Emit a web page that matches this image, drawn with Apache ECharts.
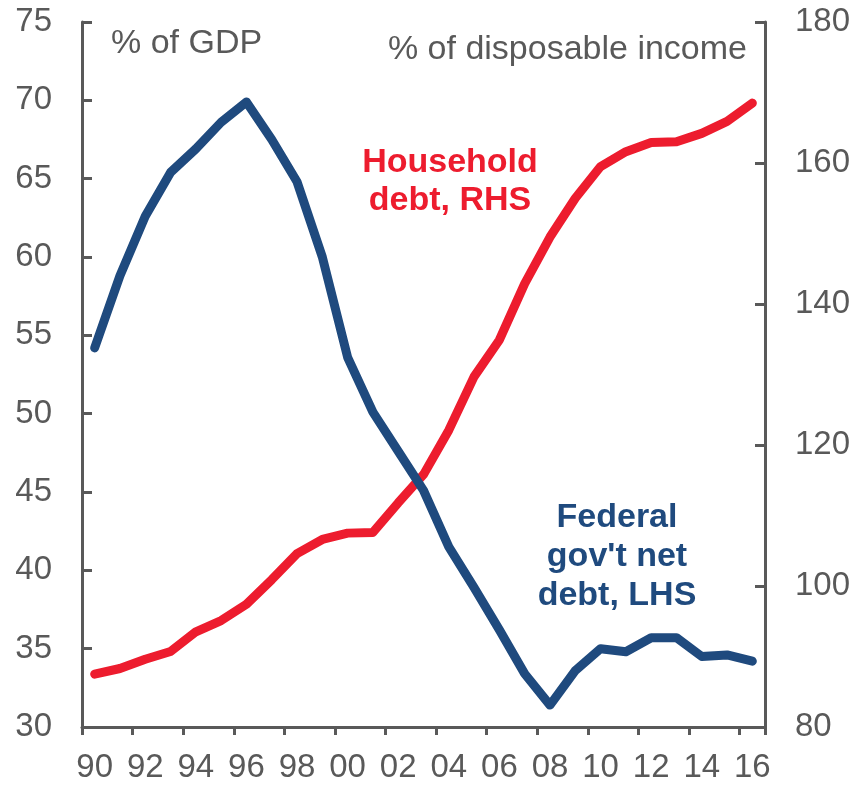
<!DOCTYPE html>
<html>
<head>
<meta charset="utf-8">
<script src="https://cdn.jsdelivr.net/npm/echarts@6/dist/echarts.min.js"></script>
<style>
html,body{margin:0;padding:0;background:#fff;}
#chart{width:857px;height:786px;}
</style>
</head>
<body>
<div id="chart"></div>
<script>
var years = ['1990','1991','1992','1993','1994','1995','1996','1997','1998','1999','2000','2001','2002','2003','2004','2005','2006','2007','2008','2009','2010','2011','2012','2013','2014','2015','2016'];
var federalDebt = [54.2,58.8,62.6,65.4,66.9,68.6,69.9,67.5,64.8,60.0,53.6,50.1,47.6,45.1,41.5,38.9,36.2,33.4,31.4,33.6,35.0,34.8,35.7,35.7,34.5,34.6,34.2];
var householdDebt = [87.5,88.3,89.6,90.7,93.5,95.1,97.4,100.9,104.6,106.6,107.5,107.6,111.8,115.8,122.1,129.7,134.9,142.9,149.5,155.0,159.5,161.6,162.9,163.0,164.2,165.9,168.5];
var leftTicks = {min:30, max:75, interval:5};
var rightTicks = {min:80, max:180, interval:20};

var FONT = '"Liberation Sans", Arial, sans-serif';
var GRAY = '#595959';
var RED = '#ED1C2E';
var BLUE = '#1F4A7E';

var chart = echarts.init(document.getElementById('chart'));
chart.setOption({
  animation:false,
  backgroundColor:'#fff',
  grid:{left:82, right:92, top:22, bottom:59, containLabel:false},
  xAxis:{
    type:'category', data:years, boundaryGap:true,
    axisLine:{show:true, lineStyle:{color:GRAY, width:3}},
    axisTick:{show:true, interval:1, length:8, lineStyle:{color:GRAY, width:3}},
    axisLabel:{interval:1, margin:24, color:GRAY, fontSize:33, fontFamily:FONT,
      formatter:function(v){return v.slice(2);}},
    splitLine:{show:false}
  },
  yAxis:[{
    type:'value', min:leftTicks.min, max:leftTicks.max, interval:leftTicks.interval, position:'left',
    axisLine:{show:true, lineStyle:{color:GRAY, width:3}},
    axisTick:{show:true, inside:true, length:10, lineStyle:{color:GRAY, width:3}},
    axisLabel:{margin:30, color:GRAY, fontSize:33, fontFamily:FONT},
    splitLine:{show:false}
  },{
    type:'value', min:rightTicks.min, max:rightTicks.max, interval:rightTicks.interval, position:'right',
    axisLine:{show:true, lineStyle:{color:GRAY, width:3}},
    axisTick:{show:true, inside:true, length:10, lineStyle:{color:GRAY, width:3}},
    axisLabel:{margin:30, color:GRAY, fontSize:33, fontFamily:FONT},
    splitLine:{show:false}
  }],
  series:[{
    name:'Household debt, RHS', type:'line', yAxisIndex:1, data:householdDebt,
    symbol:'none', lineStyle:{color:RED, width:9, cap:'round', join:'round'}
  },{
    name:"Federal gov't net debt, LHS", type:'line', yAxisIndex:0, data:federalDebt,
    symbol:'none', lineStyle:{color:BLUE, width:9, cap:'round', join:'round'}
  }],
  graphic:[
    {type:'text', left:111, top:27, style:{text:'% of GDP', fill:GRAY, font:'34px '+FONT}},
    {type:'text', right:110, top:33, style:{text:'% of disposable income', fill:GRAY, font:'34px '+FONT}},
    {type:'text', x:450, y:182, style:{text:'Household\ndebt, RHS', fill:RED, font:'bold 34px '+FONT, align:'center', verticalAlign:'middle', lineHeight:38}},
    {type:'text', x:617, y:557, style:{text:"Federal\ngov't net\ndebt, LHS", fill:BLUE, font:'bold 34px '+FONT, align:'center', verticalAlign:'middle', lineHeight:39}}
  ]
});
</script>
</body>
</html>
